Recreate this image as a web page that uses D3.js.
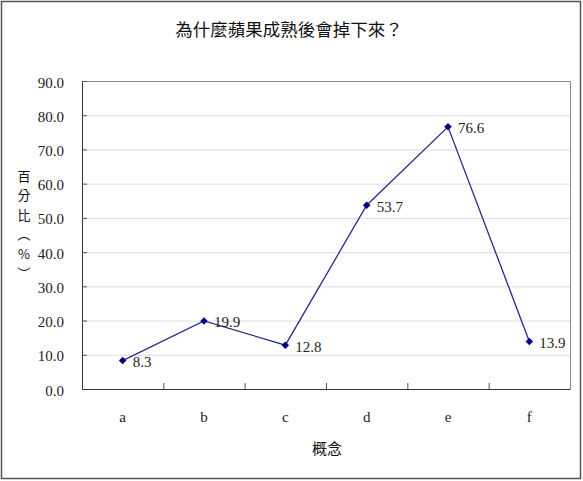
<!DOCTYPE html>
<html>
<head>
<meta charset="utf-8">
<script src="https://cdn.jsdelivr.net/npm/d3@7"></script>
<style>
  body { margin: 0; background: #fff; }
  svg { display: block; }
</style>
</head>
<body>
<div id="chart"></div>
<script>
const categories = ["a", "b", "c", "d", "e", "f"];
const values = [8.3, 19.9, 12.8, 53.7, 76.6, 13.9];
const yTicks = [0, 10, 20, 30, 40, 50, 60, 70, 80, 90];
const title = "為什麼蘋果成熟後會掉下來？";
const xTitle = "概念";
const yTitleChars = ["百", "分", "比", "︵", "%", "︶"];

const width = 583;
const height = 481;
const margin = { top: 81, right: 13, bottom: 92, left: 82 };
const chartWidth = width - margin.left - margin.right;
const chartHeight = height - margin.top - margin.bottom;

const numFont = "'Liberation Serif', 'DejaVu Serif', serif";
const cjkFont = "'Noto Sans CJK TC', 'Noto Sans CJK SC', sans-serif";

const svg = d3.select("#chart")
  .append("svg")
  .attr("width", width)
  .attr("height", height);

// outer frame
svg.append("rect")
  .attr("x", 1.5)
  .attr("y", 1.5)
  .attr("width", width - 4)
  .attr("height", height - 4)
  .attr("fill", "#fff")
  .attr("stroke", "#555")
  .attr("stroke-width", 1.5);

svg.append("text")
  .attr("x", 289)
  .attr("y", 36)
  .attr("text-anchor", "middle")
  .style("font-family", cjkFont)
  .style("font-size", "17.5px")
  .style("fill", "#111")
  .text(title);

const g = svg.append("g")
  .attr("transform", `translate(${margin.left},${margin.top})`);

const xScale = d3.scaleBand()
  .domain(categories)
  .range([0, chartWidth]);

const yScale = d3.scaleLinear()
  .domain([0, 90])
  .range([chartHeight, 0]);

// gridlines
g.selectAll(".grid")
  .data(yTicks.filter((d) => d > 0 && d < 90))
  .enter()
  .append("line")
  .attr("class", "grid")
  .attr("x1", 0)
  .attr("x2", chartWidth)
  .attr("y1", (d) => yScale(d) + 0.5)
  .attr("y2", (d) => yScale(d) + 0.5)
  .attr("stroke", "#dcdcdc")
  .attr("stroke-width", 1);

// plot frame (top & right)
g.append("path")
  .attr("d", `M0.5,${yScale(90) + 0.5}H${chartWidth + 0.5}V${chartHeight}`)
  .attr("fill", "none")
  .attr("stroke", "#888")
  .attr("stroke-width", 1);

// y axis
const yAxis = d3.axisLeft(yScale)
  .tickValues(yTicks)
  .tickSize(-5)
  .tickPadding(18)
  .tickFormat(d3.format(".1f"));

const yG = g.append("g").call(yAxis);
yG.select(".domain").attr("stroke", "#333");
yG.selectAll(".tick line").attr("stroke", "#555");
yG.selectAll("text")
  .attr("dy", "0.4em")
  .style("font-family", numFont)
  .style("font-size", "15px")
  .style("fill", "#222");

// x axis
const xAxis = d3.axisBottom(xScale)
  .tickSize(0)
  .tickPadding(22);

const xG = g.append("g")
  .attr("transform", `translate(0,${chartHeight})`)
  .call(xAxis);
xG.select(".domain").attr("stroke", "#333");
xG.selectAll("text")
  .style("font-family", numFont)
  .style("font-size", "15px")
  .style("fill", "#222");

// band boundary ticks pointing up
g.selectAll(".xtick")
  .data(categories.slice(1))
  .enter()
  .append("line")
  .attr("class", "xtick")
  .attr("x1", (d) => xScale(d) + 0.5)
  .attr("x2", (d) => xScale(d) + 0.5)
  .attr("y1", chartHeight)
  .attr("y2", chartHeight - 6)
  .attr("stroke", "#555");

const line = d3.line()
  .x((d, i) => xScale(categories[i]) + xScale.bandwidth() / 2)
  .y((d) => yScale(d));

g.append("path")
  .datum(values)
  .attr("fill", "none")
  .attr("stroke", "#2b2b8a")
  .attr("stroke-width", 1.3)
  .attr("d", line);

g.selectAll(".dot")
  .data(values)
  .enter()
  .append("path")
  .attr("class", "dot")
  .attr("d", d3.symbol().type(d3.symbolDiamond2).size(36))
  .attr("transform", (d, i) =>
    `translate(${xScale(categories[i]) + xScale.bandwidth() / 2},${yScale(d)})`)
  .attr("fill", "#000080");

g.selectAll(".lbl")
  .data(values)
  .enter()
  .append("text")
  .attr("class", "lbl")
  .attr("x", (d, i) => xScale(categories[i]) + xScale.bandwidth() / 2 + 10)
  .attr("y", (d) => yScale(d) + 6.5)
  .style("font-family", numFont)
  .style("font-size", "15px")
  .style("fill", "#222")
  .text((d) => d.toFixed(1));

svg.append("text")
  .attr("x", 327)
  .attr("y", 454)
  .attr("text-anchor", "middle")
  .style("font-family", cjkFont)
  .style("font-size", "15px")
  .style("fill", "#111")
  .text(xTitle);

// vertical y title, one character per row
svg.selectAll(".ych")
  .data(yTitleChars)
  .enter()
  .append("text")
  .attr("class", "ych")
  .attr("x", 24)
  .attr("y", (d, i) => 176 + i * 19.5)
  .attr("dy", "0.35em")
  .attr("text-anchor", "middle")
  .style("font-family", cjkFont)
  .style("font-size", "13px")
  .style("fill", "#111")
  .text((d) => d);
</script>
</body>
</html>
